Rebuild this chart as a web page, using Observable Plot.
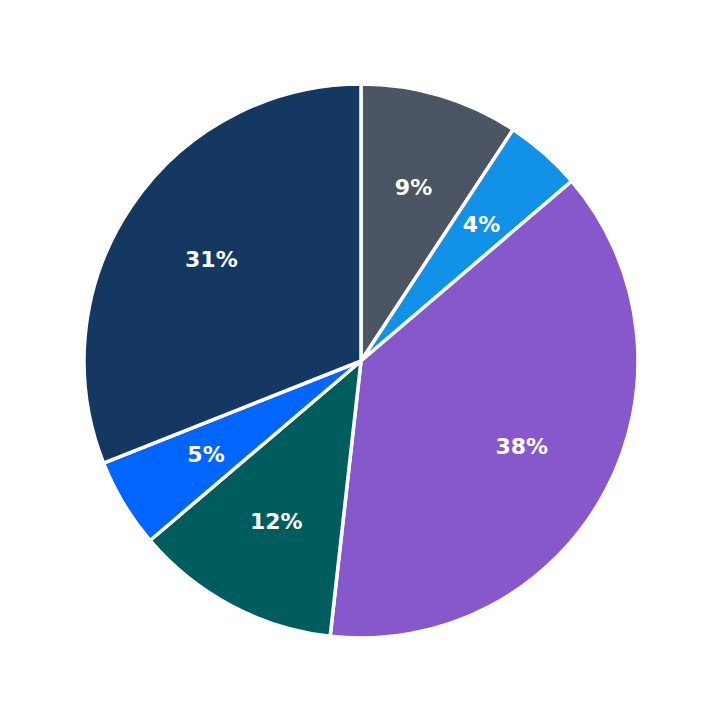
<!DOCTYPE html>
<html>
<head>
<meta charset="utf-8">
<script src="https://cdn.jsdelivr.net/npm/d3@7"></script>
<script src="https://cdn.jsdelivr.net/npm/@observablehq/plot@0.6"></script>
<style>
  html, body { margin: 0; padding: 0; background: #ffffff; }
  #chart { width: 723px; height: 723px; }
</style>
</head>
<body>
<div id="chart"></div>
<script>
const categories = ["A", "B", "C", "D", "E", "F"];
const values = [9.25, 4.5, 38.0, 12.0, 5.2, 31.0];
const labels = ["9%", "4%", "38%", "12%", "5%", "31%"];
const colors = ["#4b5563", "#1192e8", "#8757cc", "#005d5d", "#0066ff", "#143862"];

const data = categories.map((c, i) => ({category: c, value: values[i], label: labels[i], color: colors[i]}));
const arcs = d3.pie().sort(null).value(d => d.value)(data);
const labelR = 0.655;
const labelData = arcs.map(a => {
  const mid = (a.startAngle + a.endAngle) / 2;
  return {label: a.data.label, x: labelR * Math.sin(mid), y: labelR * Math.cos(mid)};
});

const slices = (index, scales) => {
  const cx = scales.x(0), cy = scales.y(0);
  const r = scales.x(1) - scales.x(0);
  const arc = d3.arc().innerRadius(0).outerRadius(r);
  const g = d3.create("svg:g").attr("transform", `translate(${cx},${cy})`);
  g.selectAll("path").data(arcs).join("path")
    .attr("d", arc)
    .attr("fill", d => d.data.color)
    .attr("stroke", "#ffffff")
    .attr("stroke-width", 3.5)
    .attr("stroke-linejoin", "round");
  return g.node();
};

const chart = Plot.plot({
  width: 723,
  height: 723,
  margin: 0,
  x: {domain: [-1, 1], range: [84, 638], axis: null},
  y: {domain: [-1, 1], range: [638, 84], axis: null},
  style: {background: "#ffffff"},
  marks: [
    slices,
    Plot.text(labelData, {
      x: "x", y: "y", text: "label",
      fill: "#ffffff", fontSize: 22, fontWeight: "bold",
      fontFamily: "DejaVu Sans"
    })
  ]
});
document.getElementById("chart").appendChild(chart);
</script>
</body>
</html>
